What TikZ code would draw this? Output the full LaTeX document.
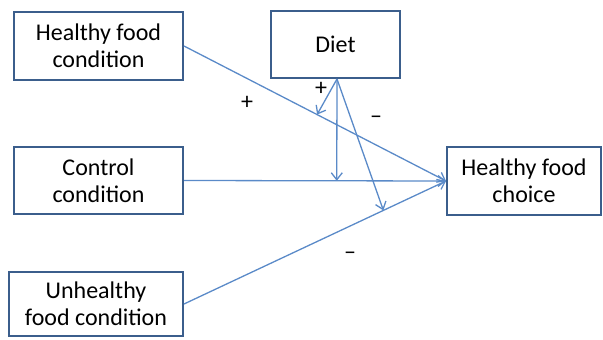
\documentclass[tikz,border=0pt]{standalone}
\usepackage{fontspec}
\setmainfont{Carlito}
\usetikzlibrary{arrows.meta,calc}
\definecolor{boxblue}{HTML}{3B5E8C}
\definecolor{linkblue}{HTML}{5A8AC8}
\tikzset{
  box/.style={draw=boxblue, line width=2pt, fill=white, align=center, inner sep=0pt,
    font=\fontsize{24}{27}\selectfont, text=black},
  link/.style={draw=linkblue, line width=1.3pt, -{Straight Barb[length=7pt,width=11pt,line width=1.3pt]}},
  sign/.style={font=\fontsize{24}{27}\selectfont, text=black, inner sep=0pt}
}
\begin{document}
\begin{tikzpicture}[x=1pt,y=-1pt]
\useasboundingbox (0,0) rectangle (603,340);
\node[box, minimum width=169pt, minimum height=68pt] (hfc) at (98.5,46) {Healthy food\\condition};
\node[box, minimum width=129pt, minimum height=67pt] (diet) at (335.5,44.5) {Diet};
\node[box, minimum width=169pt, minimum height=67pt] (ctrl) at (98.5,180.5) {Control\\condition};
\node[box, minimum width=174pt, minimum height=64pt] (unh) at (96,304) {Unhealthy\\food condition};
\node[box, minimum width=154pt, minimum height=68pt] (choice) at (524,181) {Healthy food\\choice};
\coordinate (d) at (337,79);
\draw[link] (hfc.east) -- (choice.west);
\draw[link] (ctrl.east) -- (choice.west);
\draw[link] (unh.east) -- (choice.west);
\coordinate (p1) at ($(hfc.east)!0.508!(choice.west)$);
\coordinate (p2) at ($(ctrl.east)!0.583!(choice.west)$);
\coordinate (p3) at ($(unh.east)!0.761!(choice.west)$);
\draw[link] (d) -- (p1);
\draw[link] (d) -- (p2);
\draw[link] (d) -- (p3);
\node[sign] (s1) at (247,103) {+};
\node[sign] (s2) at (321,89) {+};
\node[sign] (s3) at (376,120) {--};
\node[sign] (s4) at (350,256) {--};
\end{tikzpicture}
\end{document}
